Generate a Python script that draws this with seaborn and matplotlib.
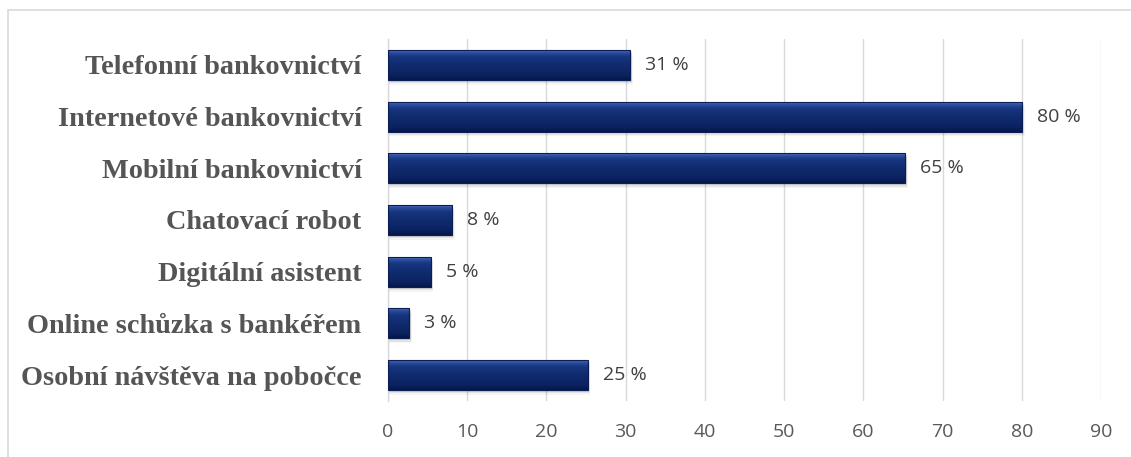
import matplotlib
matplotlib.use("Agg")
import matplotlib.pyplot as plt
import seaborn as sns
import pandas as pd
import numpy as np
from matplotlib.patches import Rectangle
from matplotlib.colors import LinearSegmentedColormap

categories = ["Telefonní bankovnictví", "Internetové bankovnictví", "Mobilní bankovnictví",
              "Chatovací robot", "Digitální asistent", "Online schůzka s bankéřem",
              "Osobní návštěva na pobočce"]
values = [30.6, 80.0, 65.3, 8.1, 5.4, 2.7, 25.2]
value_labels = ["31 %", "80 %", "65 %", "8 %", "5 %", "3 %", "25 %"]
xticks = [0, 10, 20, 30, 40, 50, 60, 70, 80, 90]

df = pd.DataFrame({"cat": categories, "val": values})

sns.set_theme(style="white")
plt.rcParams['font.family'] = ['Open Sans', 'DejaVu Sans']

fig = plt.figure(figsize=(11.31, 4.57), dpi=100)
ax = fig.add_axes([0.343, 0.1225, 0.9735 - 0.343, 0.9147 - 0.1225])

sns.barplot(data=df, x="val", y="cat", ax=ax, color="#112d70", width=0.58,
            edgecolor="none", linewidth=0, saturation=1, zorder=3)

# bevel-like gradient and soft shadow, derived from each bar's geometry
bevel = LinearSegmentedColormap.from_list(
    "bevel", [(0.0, "#5070c0"), (0.08, "#2c4c9e"), (0.22, "#17357f"),
              (0.55, "#0f2a6c"), (0.85, "#0b2260"), (1.0, "#06174a")])
grad = np.linspace(0, 1, 64).reshape(-1, 1)
for p in list(ax.patches):
    x0, y0 = p.get_x(), p.get_y()
    w, h = p.get_width(), p.get_height()
    for k, a in enumerate([0.10, 0.07, 0.04]):
        ax.add_patch(Rectangle((x0 + 0.15, y0 + h * (0.06 + 0.05 * k)), w + 0.1 * k, h,
                               color="#000000", alpha=a, lw=0, zorder=2))
    im = ax.imshow(grad, cmap=bevel, aspect="auto", extent=(x0, x0 + w, y0 + h, y0),
                   zorder=4, interpolation="bicubic")
    im.set_clip_path(p)
    p.set_edgecolor("#0a1e55")
    p.set_linewidth(0.8)
    p.set_zorder(5)
    p.set_facecolor("none")

ax.set_xlim(0, 90)
ax.set_ylim(len(categories) - 0.5, -0.5)
ax.set_xticks(xticks)
ax.set_xticklabels([str(t) for t in xticks], fontsize=14, color="#595959")
ax.tick_params(axis="x", length=0, pad=16)
ax.tick_params(axis="y", length=0, pad=19)
for lbl in ax.get_yticklabels():
    lbl.set_fontfamily("Liberation Serif")
    lbl.set_fontweight("bold")
    lbl.set_fontsize(20.3)
    lbl.set_color("#555555")
ax.set_xlabel("")
ax.set_ylabel("")
ax.grid(axis="x", color="#d9d9d9", linewidth=1, zorder=0)
for s in ["top", "right", "bottom"]:
    ax.spines[s].set_visible(False)
ax.spines["left"].set_color("#d9d9d9")
ax.spines["left"].set_linewidth(1)

for i, (v, t) in enumerate(zip(values, value_labels)):
    ax.text(v + 1.9, i, t, va="center", ha="left", fontsize=14, color="#404040")

fig.patches.append(Rectangle((8 / 1131, -0.05), 1.2, 1 - 10 / 457 + 0.05,
                             transform=fig.transFigure, fill=False,
                             edgecolor="#d9d9d9", linewidth=1.2))

fig.savefig("out.png", dpi=100)
